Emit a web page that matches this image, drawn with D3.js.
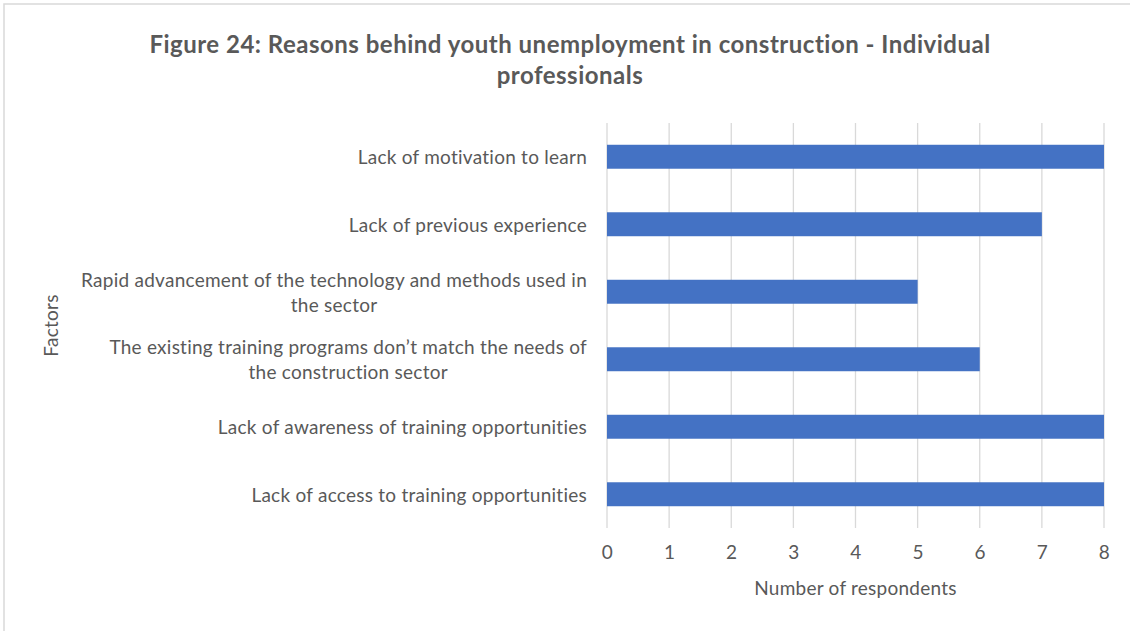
<!DOCTYPE html>
<html>
<head>
<meta charset="utf-8">
<script src="https://cdn.jsdelivr.net/npm/d3@7"></script>
<style>
  html, body { margin: 0; padding: 0; background: #fff; }
  svg { display: block; }
  text { font-family: Lato, "Open Sans", sans-serif; fill: #595959; }
  .lbl { font-size: 19px; letter-spacing: 0.25px; }
  .ttl { font-size: 24px; font-weight: bold; letter-spacing: 0.5px; }
</style>
</head>
<body>
<svg id="chart" width="1130" height="631"></svg>
<script>
// Survey responses, listed top to bottom as shown on the chart
const categories = [
  ["Lack of motivation to learn"],
  ["Lack of previous experience"],
  ["Rapid advancement of the technology and methods used in", "the sector"],
  ["The existing training programs don\u2019t match the needs of", "the construction sector"],
  ["Lack of awareness of training opportunities"],
  ["Lack of access to training opportunities"]
];
const respondents = [8, 7, 5, 6, 8, 8];
const xTicks = [0, 1, 2, 3, 4, 5, 6, 7, 8];

const titleLines = [
  "Figure 24: Reasons behind youth unemployment in construction - Individual",
  "professionals"
];
const xTitle = "Number of respondents";
const yTitle = "Factors";

const W = 1130, H = 631;
const plot = { left: 607, right: 1104, top: 123, bottom: 528 };

const svg = d3.select("#chart");

// chart frame
svg.append("rect")
  .attr("x", 4).attr("y", 4)
  .attr("width", W + 10).attr("height", H + 10)
  .attr("fill", "#fff")
  .attr("stroke", "#d9d9d9").attr("stroke-width", 1.5);

const keys = categories.map((c, i) => i);
const x = d3.scaleLinear().domain([0, 8]).range([plot.left, plot.right]);
const y = d3.scaleBand().domain(keys).range([plot.top, plot.bottom]).paddingInner(0.645).paddingOuter(0.3225);

// vertical gridlines
svg.append("g")
  .selectAll("line")
  .data(xTicks)
  .join("line")
  .attr("x1", d => x(d)).attr("x2", d => x(d))
  .attr("y1", plot.top).attr("y2", plot.bottom)
  .attr("stroke", "#d9d9d9").attr("stroke-width", 1.3);

// bars
svg.append("g")
  .selectAll("rect")
  .data(respondents)
  .join("rect")
  .attr("x", x(0))
  .attr("y", (d, i) => y(i))
  .attr("width", d => x(d) - x(0))
  .attr("height", y.bandwidth())
  .attr("fill", "#4472c4");

// x axis tick labels
const xAxis = d3.axisBottom(x).tickValues(xTicks).tickSize(0).tickPadding(0);
const gx = svg.append("g").attr("transform", `translate(0,${plot.bottom})`).call(xAxis);
gx.select(".domain").remove();
gx.attr("font-family", null).attr("font-size", null);
gx.selectAll("text")
  .attr("class", "lbl")
  .attr("dy", null)
  .attr("y", 23)
  .attr("dominant-baseline", "central")
  .attr("fill", "#595959");

// category labels (right aligned block, lines centered within it)
const labelRight = 587;
const lineH = 25;
const labels = svg.append("g");
categories.forEach((lines, i) => {
  const cy = y(i) + y.bandwidth() / 2;
  const g = labels.append("g");
  const texts = lines.map((ln, j) =>
    g.append("text")
      .attr("class", "lbl")
      .attr("y", cy + (j - (lines.length - 1) / 2) * lineH)
      .attr("dominant-baseline", "central")
      .attr("text-anchor", "middle")
      .text(ln)
  );
  const widest = d3.max(texts, t => t.node().getComputedTextLength());
  texts.forEach(t => t.attr("x", labelRight - widest / 2));
});

// title
svg.append("g").selectAll("text")
  .data(titleLines)
  .join("text")
  .attr("class", "ttl")
  .attr("x", 570)
  .attr("y", (d, i) => 43 + i * 31)
  .attr("text-anchor", "middle")
  .attr("dominant-baseline", "central")
  .text(d => d);

// axis titles
svg.append("text")
  .attr("class", "lbl")
  .attr("x", (plot.left + plot.right) / 2)
  .attr("y", 587)
  .attr("text-anchor", "middle")
  .attr("dominant-baseline", "central")
  .text(xTitle);

svg.append("text")
  .attr("class", "lbl")
  .attr("transform", `translate(50,${(plot.top + plot.bottom) / 2}) rotate(-90)`)
  .attr("text-anchor", "middle")
  .attr("dominant-baseline", "central")
  .text(yTitle);
</script>
</body>
</html>
